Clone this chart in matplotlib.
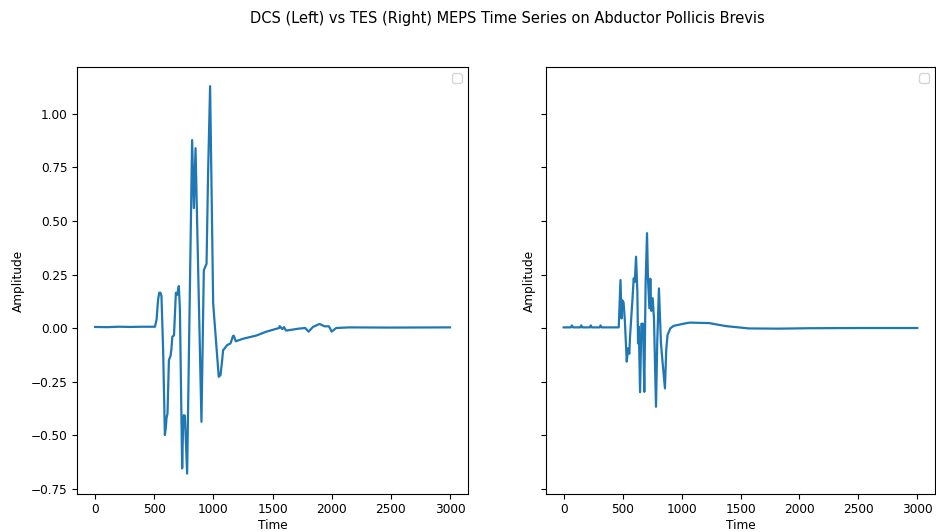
import matplotlib
matplotlib.use("Agg")
import matplotlib.pyplot as plt

title = "DCS (Left) vs TES (Right) MEPS Time Series on Abductor Pollicis Brevis"

dcs_time = [0, 100, 200, 300, 400, 506, 520, 532, 542, 552, 561, 575, 590, 597, 604, 612, 624,
            638, 645, 653, 667, 683, 694, 708, 717, 736, 744, 750, 759, 778, 820, 835, 849, 899,
            919, 942, 955, 972, 998, 1015, 1045, 1060, 1074, 1082, 1088, 1116, 1144, 1166, 1172,
            1189, 1251, 1364, 1447, 1555, 1560, 1582, 1597, 1614, 1720, 1776, 1804, 1841, 1897,
            1939, 1976, 2000, 2037, 2149, 2500, 2999]
dcs_amp = [0.005, 0.004, 0.006, 0.005, 0.006, 0.006, 0.04, 0.13, 0.165, 0.165, 0.150, -0.10,
           -0.50, -0.47, -0.42, -0.40, -0.15, -0.13, -0.10, -0.04, -0.035, 0.165, 0.155, 0.196,
           0.084, -0.656, -0.45, -0.407, -0.41, -0.68, 0.878, 0.56, 0.84, -0.438, 0.27, 0.30,
           0.72, 1.13, 0.115, -0.01, -0.228, -0.22, -0.15, -0.103, -0.10, -0.08, -0.072, -0.037,
           -0.036, -0.062, -0.05, -0.035, -0.017, 0.0, 0.009, -0.005, 0.004, -0.012, -0.003,
           0.0, -0.017, 0.005, 0.019, 0.008, 0.008, -0.017, 0.0, 0.003, 0.002, 0.003]

tes_time = [0, 60, 70, 80, 140, 149, 158, 222, 230, 238, 305, 313, 321, 467, 482, 491, 496, 508,
            519, 535, 546, 557, 563, 583, 594, 603, 614, 625, 631, 637, 648, 659, 673, 684, 695,
            707, 715, 727, 735, 743, 755, 766, 783, 794, 808, 825, 842, 859, 870, 881, 904, 932,
            1008, 1065, 1093, 1234, 1375, 1572, 1825, 2079, 2502, 2999]
tes_amp = [0.003, 0.003, 0.012, 0.003, 0.003, 0.012, 0.003, 0.003, 0.012, 0.003, 0.003, 0.012,
           0.003, 0.003, 0.224, 0.045, 0.13, 0.12, 0.035, -0.157, -0.095, -0.12, -0.04, 0.13,
           0.232, 0.215, 0.333, 0.17, -0.072, 0.006, -0.30, 0.02, 0.02, -0.298, 0.209, 0.443,
           0.23, 0.092, 0.23, 0.08, 0.139, 0.045, -0.368, -0.06, 0.185, -0.07, -0.18, -0.282,
           -0.10, -0.033, -0.002, 0.01, 0.019, 0.025, 0.025, 0.023, 0.009, -0.002, -0.003,
           -0.001, 0.0, 0.0]

plt.rcParams['font.size'] = 8.7
fig = plt.figure(figsize=(9.36, 5.32), dpi=100)
ax1 = fig.add_axes([0.0826, 0.0720, 0.4171, 0.8015])
ax2 = fig.add_axes([0.5833, 0.0720, 0.4156, 0.8015], sharey=ax1)

ax1.plot(dcs_time, dcs_amp, color='#1f77b4', lw=1.6)
ax2.plot(tes_time, tes_amp, color='#1f77b4', lw=1.6)

for ax in (ax1, ax2):
    ax.set_xlabel("Time", labelpad=2)
    ax.set_ylabel("Amplitude")
    ax.set_xticks([0, 500, 1000, 1500, 2000, 2500, 3000])
    ax.legend(handles=[], loc='upper right')
ax1.set_xlim(-150, 3149)
ax2.set_xlim(-150, 3149)
ax1.set_ylim(-0.774, 1.218)
plt.setp(ax2.get_yticklabels(), visible=False)

fig.suptitle(title, x=0.542, y=0.966, va='center', fontsize=10.5)
fig.savefig("out.png", dpi=100)
